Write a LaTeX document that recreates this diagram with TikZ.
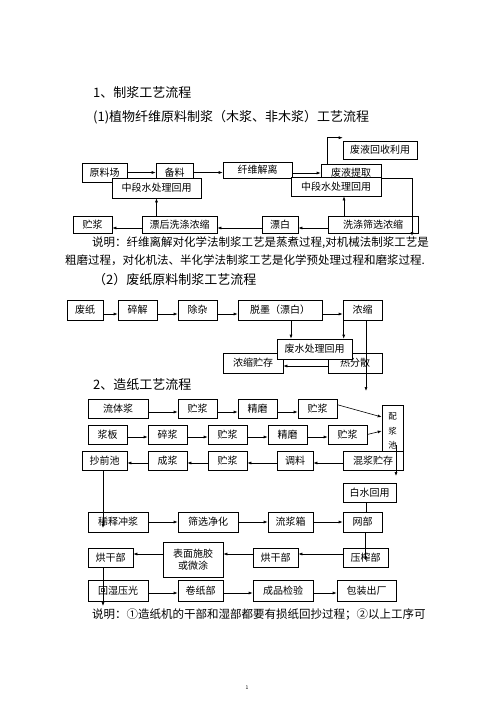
\documentclass[tikz,border=0pt]{standalone}
\usepackage{fontspec}
\newfontfamily\cjk{Noto Sans CJK SC}
\usetikzlibrary{arrows.meta,positioning,calc}

\begin{document}
\begin{tikzpicture}[x=1pt, y=-1pt,
    box/.style={draw, fill=white, line width=0.6pt, inner sep=0pt,
                font=\cjk\fontsize{10}{11.5}\selectfont},
    arr/.style={-{Latex[length=4pt,width=3pt]}, line width=0.6pt},
    ln/.style={line width=0.6pt},
    heading/.style={anchor=west, inner sep=0pt, font=\cjk\fontsize{13}{15}\selectfont},
    notetext/.style={anchor=west, inner sep=0pt, font=\cjk\fontsize{11.5}{13}\selectfont}
]
\useasboundingbox (0,0) rectangle (496,702);

% 标题
\node[heading] (h1) at (93,93) {1、制浆工艺流程};
\node[heading] (h2) at (93,117) {(1)植物纤维原料制浆（木浆、非木浆）工艺流程};

% (1) 植物纤维原料
\node[box, minimum width=74pt, minimum height=18pt] (hs) at (380,150) {废液回收利用};
\node[box, minimum width=45pt, minimum height=19pt] (ylc) at (104.5,172.5) {原料场};
\node[box, minimum width=37pt, minimum height=19pt] (bl) at (174.5,172.5) {备料};
\node[box, minimum width=69pt, minimum height=16pt] (xw) at (257.5,170) {纤维解离};
\node[box, minimum width=60pt, minimum height=18pt] (fytq) at (351,173) {废液提取};
\node[box, minimum width=89pt, minimum height=20pt] (zd1) at (156.5,188) {中段水处理回用};
\node[box, minimum width=90pt, minimum height=19pt] (zd2) at (336,186.5) {中段水处理回用};
\node[box, minimum width=39pt, minimum height=17pt] (zj) at (92.5,224.5) {贮浆};
\node[box, minimum width=75pt, minimum height=17pt] (phxd) at (179.5,224.5) {漂后洗涤浓缩};
\node[box, minimum width=36pt, minimum height=17pt] (pb) at (280,224.5) {漂白};
\node[box, minimum width=90pt, minimum height=17pt] (xdsx) at (373,224.5) {洗涤筛选浓缩};
\coordinate (c1) at (412,236);

\draw[arr] (ylc.east) -- (bl.west);
\draw[arr] (bl.east) -- (bl.east -| xw.west);
\draw[arr] ([yshift=-3pt]xw.east) -- ([yshift=-3pt]xw.east -| fytq.west);
\draw[arr] ([xshift=7pt]fytq.north west) |- ([yshift=3pt]hs.north west);
\draw[arr] ([yshift=-5pt]fytq.east) -| (c1);
\draw[arr] ([yshift=-3.5pt]xdsx.west) -- ([yshift=-3.5pt]pb.east);
\draw[arr] ([yshift=-3.5pt]pb.west) -- ([yshift=-3.5pt]phxd.east);
\draw[arr] ([yshift=-3.5pt]phxd.west) -- ([yshift=-3.5pt]zj.east);
\draw[arr] (phxd.north -| zd1) -- (zd1.south);
\draw[arr] ([xshift=-29pt]xdsx.north) -- ([xshift=-29pt]xdsx.north |- zd2.south);

% 说明
\node[notetext] (n1) at (92,243) {说明：纤维离解对化学法制浆工艺是蒸煮过程,对机械法制浆工艺是};
\node[notetext] (n2) at (65,260) {粗磨过程，对化机法、半化学法制浆工艺是化学预处理过程和磨浆过程.};
\node[heading] (h3) at (93,280) {（2）废纸原料制浆工艺流程};

% (2) 废纸原料
\node[box, minimum width=36pt, minimum height=20pt] (fz) at (85,310) {废纸};
\node[box, minimum width=39pt, minimum height=20pt] (sj) at (137.5,310) {碎解};
\node[box, minimum width=39pt, minimum height=20pt] (cz) at (197.5,310) {除杂};
\node[box, minimum width=84pt, minimum height=20pt] (tm) at (280,310) {脱墨（漂白）};
\node[box, minimum width=39pt, minimum height=20pt] (ns) at (362.5,310) {浓缩};
\node[box, minimum width=60pt, minimum height=20pt] (nszc) at (253,363) {浓缩贮存};
\node[box, minimum width=54pt, minimum height=20pt] (rfs) at (355,363) {热分散};
\node[box, minimum width=75pt, minimum height=20pt] (fscl) at (314.5,349) {废水处理回用};
\coordinate (c2) at (366,391);

\draw[arr] ([yshift=-4pt]fz.east) -- ([yshift=-4pt]sj.west);
\draw[arr] ([yshift=-4pt]sj.east) -- ([yshift=-4pt]cz.west);
\draw[arr] ([yshift=-4pt]cz.east) -- ([yshift=-4pt]tm.west);
\draw[arr] ([yshift=-4pt]tm.east) -- ([yshift=-4pt]ns.west);
\draw[arr] ([xshift=11pt]tm.south) -- ([xshift=11pt]tm.south |- fscl.north);
\draw[arr] ([xshift=1pt]ns.south west) -- ([xshift=1pt]ns.south west |- fscl.north);
\draw[arr] ([yshift=-3pt]rfs.west) -- ([yshift=-3pt]nszc.east);
\draw[arr] (ns.south -| c2) -- (c2);

% 造纸
\node[heading] (h4) at (93,385) {2、造纸工艺流程};

\node[box, minimum width=60pt, minimum height=19pt] (ltj) at (118,408.5) {流体浆};
\node[box, minimum width=39pt, minimum height=19pt] (zj1) at (197.5,408.5) {贮浆};
\node[box, minimum width=39pt, minimum height=19pt] (jm1) at (257.5,408.5) {精磨};
\node[box, minimum width=39pt, minimum height=19pt] (zj2) at (317.5,408.5) {贮浆};
\node[box, minimum width=21pt, minimum height=52pt, align=center,
      font=\cjk\fontsize{8.5}{14.5}\selectfont] (pjc) at (392.5,431) {配\\浆\\池};
\node[box, minimum width=39pt, minimum height=19pt] (jb) at (107.5,434.5) {浆板};
\node[box, minimum width=39pt, minimum height=19pt] (sj2) at (167.5,434.5) {碎浆};
\node[box, minimum width=39pt, minimum height=19pt] (zj3) at (227.5,434.5) {贮浆};
\node[box, minimum width=39pt, minimum height=19pt] (jm2) at (287.5,434.5) {精磨};
\node[box, minimum width=39pt, minimum height=19pt] (zj4) at (347.5,434.5) {贮浆};
\node[box, minimum width=45pt, minimum height=19pt] (cqc) at (104.5,460.5) {抄前池};
\node[box, minimum width=39pt, minimum height=19pt] (cj) at (167.5,460.5) {成浆};
\node[box, minimum width=39pt, minimum height=19pt] (zj5) at (227.5,460.5) {贮浆};
\node[box, minimum width=36pt, minimum height=19pt] (tl) at (295,460.5) {调料};
\node[box, minimum width=60pt, minimum height=19pt] (hjzc) at (373,460.5) {混浆贮存};
\coordinate (c3) at (396,476);

\draw[arr] ([yshift=-3.5pt]ltj.east) -- ([yshift=-3.5pt]zj1.west);
\draw[arr] ([yshift=-3.5pt]zj1.east) -- ([yshift=-3.5pt]jm1.west);
\draw[arr] ([yshift=-3.5pt]jm1.east) -- ([yshift=-3.5pt]zj2.west);
\draw[arr] ([yshift=-6pt]zj2.north east) -- ([yshift=14pt]pjc.west);
\draw[arr] ([yshift=-2.5pt]jb.east) -- ([yshift=-2.5pt]sj2.west);
\draw[arr] ([yshift=-2.5pt]sj2.east) -- ([yshift=-2.5pt]zj3.west);
\draw[arr] ([yshift=-2.5pt]zj3.east) -- ([yshift=-2.5pt]jm2.west);
\draw[arr] ([yshift=-2.5pt]jm2.east) -- ([yshift=-2.5pt]zj4.west);
\draw[arr] (zj4.east) -- (pjc.west);
\draw[arr] ([yshift=-2.5pt]hjzc.west) -- ([yshift=-2.5pt]tl.east);
\draw[arr] ([yshift=-2.5pt]tl.west) -- ([yshift=-2.5pt]zj5.east);
\draw[arr] ([yshift=-2.5pt]zj5.west) -- ([yshift=-2.5pt]cj.east);
\draw[arr] ([yshift=-2.5pt]cj.west) -- ([yshift=-2.5pt]cqc.east);
\draw[arr] ([xshift=3.5pt,yshift=-14pt]pjc.center) -- (c3);

\node[box, minimum width=53pt, minimum height=19pt] (bsh) at (369.5,492.5) {白水回用};
\node[box, minimum width=60pt, minimum height=20pt] (xscj) at (118,522) {稀释冲浆};
\node[box, minimum width=60pt, minimum height=20pt] (sxjh) at (208,522) {筛选净化};
\node[box, minimum width=45pt, minimum height=20pt] (ljx) at (290.5,522) {流浆箱};
\node[box, minimum width=39pt, minimum height=20pt] (wb) at (362.5,522) {网部};

\draw[arr] ([xshift=-1.5pt]cqc.south) -- ([xshift=-1.5pt,yshift=-6pt]cqc.south |- xscj.center);
\draw[arr] (xscj.east) -- (sxjh.west);
\draw[arr] (sxjh.east) -- (ljx.west);
\draw[arr] (ljx.east) -- (wb.west);
\draw[ln] ([xshift=3.5pt]wb.north) -- ([xshift=3.5pt]wb.north |- bsh.south);

\node[box, minimum width=45pt, minimum height=19pt] (hgb1) at (110.5,557.5) {烘干部};
\node[box, minimum width=60pt, minimum height=35pt, align=center] (bmsj) at (193,559.5) {表面施胶\\或微涂};
\node[box, minimum width=45pt, minimum height=19pt] (hgb2) at (275.5,557.5) {烘干部};
\node[box, minimum width=45pt, minimum height=19pt] (yzb) at (365.5,557.5) {压榨部};
\coordinate (c4) at (103,606);

\draw[arr] (wb.south -| yzb) -- ([yshift=-3pt]yzb.center);
\draw[arr] ([yshift=3.5pt]yzb.west) -- ([yshift=3.5pt]yzb.west -| hgb2.east);
\draw[arr] ([yshift=3.5pt]hgb2.west) -- ([yshift=3.5pt]hgb2.west -| bmsj.east);
\draw[arr] ([yshift=5.5pt]bmsj.west) -- ([yshift=5.5pt]bmsj.west -| hgb1.east);

\node[box, minimum width=60pt, minimum height=21pt] (hscg) at (118,590.5) {回湿压光};
\node[box, minimum width=45pt, minimum height=21pt] (jzb) at (200.5,590.5) {卷纸部};
\node[box, minimum width=60pt, minimum height=21pt] (cpjy) at (283,590.5) {成品检验};
\node[box, minimum width=59pt, minimum height=21pt] (bzcc) at (366.5,590.5) {包装出厂};

\draw[arr] (hgb1.south -| c4) -- (c4);
\draw[arr] ([yshift=-2.5pt]hscg.east) -- ([yshift=-2.5pt]jzb.west);
\draw[arr] ([yshift=-2.5pt]jzb.east) -- ([yshift=-2.5pt]cpjy.west);
\draw[arr] ([yshift=-2.5pt]cpjy.east) -- ([yshift=-2.5pt]bzcc.west);

% 说明
\node[notetext] (n3) at (92,615) {说明：①造纸机的干部和湿部都要有损纸回抄过程；②以上工序可};
\node[inner sep=0pt, font=\cjk\fontsize{5}{6}\selectfont] (pg) at (247,688) {1};

\end{tikzpicture}
\end{document}
